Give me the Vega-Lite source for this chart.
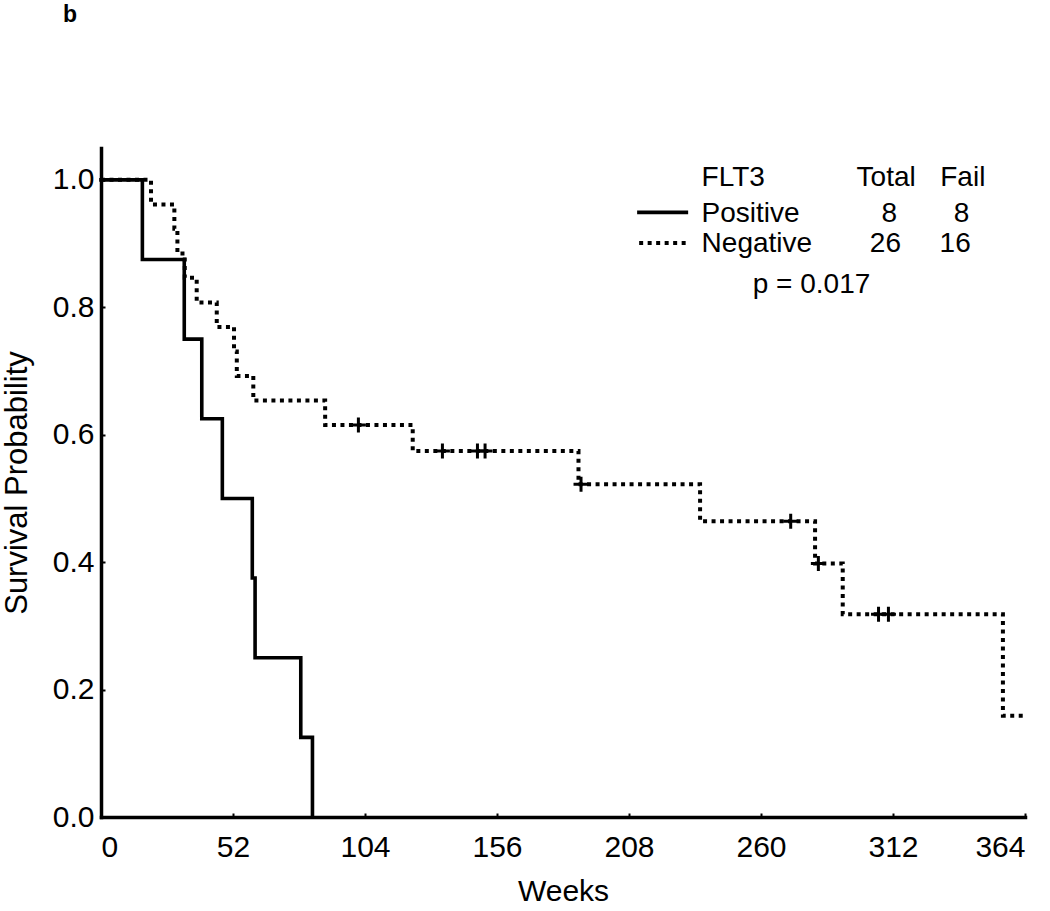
{
  "$schema": "https://vega.github.io/schema/vega-lite/v6.json",
  "autosize": {"type": "none"},
  "padding": {"left": 101, "top": 148, "right": 25, "bottom": 94},
  "width": 924,
  "height": 669,
  "background": "white",
  "title": {"text": "b", "anchor": "start", "frame": "group", "dx": -38, "offset": 121, "fontSize": 23, "fontWeight": "bold", "font": "Liberation Sans", "color": "black"},
  "config": {
    "view": {"stroke": null},
    "font": "Liberation Sans",
    "axis": {
      "grid": false,
      "domainColor": "black",
      "domainWidth": 3.5,
      "domainCap": "square",
      "tickColor": "black",
      "tickWidth": 2,
      "tickSize": -4,
      "labelFont": "Liberation Sans",
      "labelFontSize": 30,
      "labelColor": "black",
      "titleFont": "Liberation Sans",
      "titleFontSize": 30,
      "titleFontWeight": "normal",
      "titleColor": "black"
    }
  },
  "datasets": {
    "km": [
      {"group": "Positive", "week": 0, "surv": 1.0},
      {"group": "Positive", "week": 16.3, "surv": 0.875},
      {"group": "Positive", "week": 32.8, "surv": 0.75},
      {"group": "Positive", "week": 39.7, "surv": 0.625},
      {"group": "Positive", "week": 47.8, "surv": 0.5},
      {"group": "Positive", "week": 59.6, "surv": 0.375},
      {"group": "Positive", "week": 60.7, "surv": 0.25},
      {"group": "Positive", "week": 78.7, "surv": 0.125},
      {"group": "Positive", "week": 83.3, "surv": 0.0},
      {"group": "Negative", "week": 0, "surv": 1.0},
      {"group": "Negative", "week": 19.7, "surv": 0.9615},
      {"group": "Negative", "week": 28.9, "surv": 0.9231},
      {"group": "Negative", "week": 30.1, "surv": 0.8846},
      {"group": "Negative", "week": 33.0, "surv": 0.8462},
      {"group": "Negative", "week": 37.7, "surv": 0.8077},
      {"group": "Negative", "week": 45.6, "surv": 0.7692},
      {"group": "Negative", "week": 52.4, "surv": 0.7308},
      {"group": "Negative", "week": 53.5, "surv": 0.6923},
      {"group": "Negative", "week": 60.0, "surv": 0.6538},
      {"group": "Negative", "week": 88.3, "surv": 0.6154},
      {"group": "Negative", "week": 122.8, "surv": 0.5744},
      {"group": "Negative", "week": 188.1, "surv": 0.5222},
      {"group": "Negative", "week": 236.0, "surv": 0.4641},
      {"group": "Negative", "week": 281.3, "surv": 0.3978},
      {"group": "Negative", "week": 292.2, "surv": 0.3183},
      {"group": "Negative", "week": 355.3, "surv": 0.1591},
      {"group": "Negative", "week": 364.0, "surv": 0.1591}
    ],
    "censored": [
      {"group": "Negative", "week": 101.4, "surv": 0.6154},
      {"group": "Negative", "week": 134.5, "surv": 0.5744},
      {"group": "Negative", "week": 148.3, "surv": 0.5744},
      {"group": "Negative", "week": 151.3, "surv": 0.5744},
      {"group": "Negative", "week": 189.1, "surv": 0.5222},
      {"group": "Negative", "week": 271.7, "surv": 0.4641},
      {"group": "Negative", "week": 282.6, "surv": 0.3978},
      {"group": "Negative", "week": 306.3, "surv": 0.3183},
      {"group": "Negative", "week": 310.2, "surv": 0.3183}
    ],
    "legendKeys": [
      {"group": "Positive", "week": 211.2, "week2": 231.3, "surv": 0.949},
      {"group": "Negative", "week": 212.0, "week2": 230.9, "surv": 0.901}
    ],
    "legendNames": [
      {"label": "FLT3", "week": 236.6, "surv": 1.003},
      {"label": "Positive", "week": 236.6, "surv": 0.946},
      {"label": "Negative", "week": 236.6, "surv": 0.899}
    ],
    "legendCounts": [
      {"label": "Total", "week": 309.3, "surv": 1.003},
      {"label": "Fail", "week": 339.5, "surv": 1.003},
      {"label": "8", "week": 310.5, "surv": 0.946},
      {"label": "8", "week": 339.0, "surv": 0.946},
      {"label": "26", "week": 309.0, "surv": 0.899},
      {"label": "16", "week": 336.5, "surv": 0.899},
      {"label": "p = 0.017", "week": 279.9, "surv": 0.835}
    ]
  },
  "encoding": {
    "x": {"field": "week", "type": "quantitative", "scale": {"domain": [0, 364], "nice": false}, "axis": {"values": [0, 52, 104, 156, 208, 260, 312, 364], "title": "Weeks", "labelPadding": 19, "titlePadding": 14}},
    "y": {"field": "surv", "type": "quantitative", "scale": {"domain": [0, 1.05], "nice": false}, "axis": {"values": [0, 0.2, 0.4, 0.6, 0.8, 1.0], "format": ".1f", "title": "Survival Probability", "titleFontSize": 31, "labelPadding": 11, "titlePadding": 19}}
  },
  "layer": [
    {
      "data": {"name": "km"},
      "transform": [{"filter": "datum.group === 'Positive'"}],
      "mark": {"type": "line", "interpolate": "step-after", "color": "black", "strokeWidth": 3.6, "strokeCap": "square"}
    },
    {
      "data": {"name": "km"},
      "transform": [{"filter": "datum.group === 'Negative'"}],
      "mark": {"type": "line", "interpolate": "step-after", "color": "black", "strokeWidth": 4, "strokeDash": [4, 4.5]}
    },
    {
      "data": {"name": "censored"},
      "mark": {"type": "point", "shape": "M-1,0H1M0,-1V1", "size": 225, "filled": false, "color": "black", "strokeWidth": 3, "opacity": 1}
    },
    {
      "data": {"name": "legendKeys"},
      "transform": [{"filter": "datum.group === 'Positive'"}],
      "mark": {"type": "rule", "color": "black", "strokeWidth": 3.6},
      "encoding": {"x2": {"field": "week2"}}
    },
    {
      "data": {"name": "legendKeys"},
      "transform": [{"filter": "datum.group === 'Negative'"}],
      "mark": {"type": "rule", "color": "black", "strokeWidth": 4, "strokeDash": [4, 4.5]},
      "encoding": {"x2": {"field": "week2"}}
    },
    {
      "data": {"name": "legendNames"},
      "mark": {"type": "text", "align": "left", "baseline": "middle", "fontSize": 28, "color": "black"},
      "encoding": {"text": {"field": "label"}}
    },
    {
      "data": {"name": "legendCounts"},
      "mark": {"type": "text", "align": "center", "baseline": "middle", "fontSize": 28, "color": "black"},
      "encoding": {"text": {"field": "label"}}
    }
  ]
}
